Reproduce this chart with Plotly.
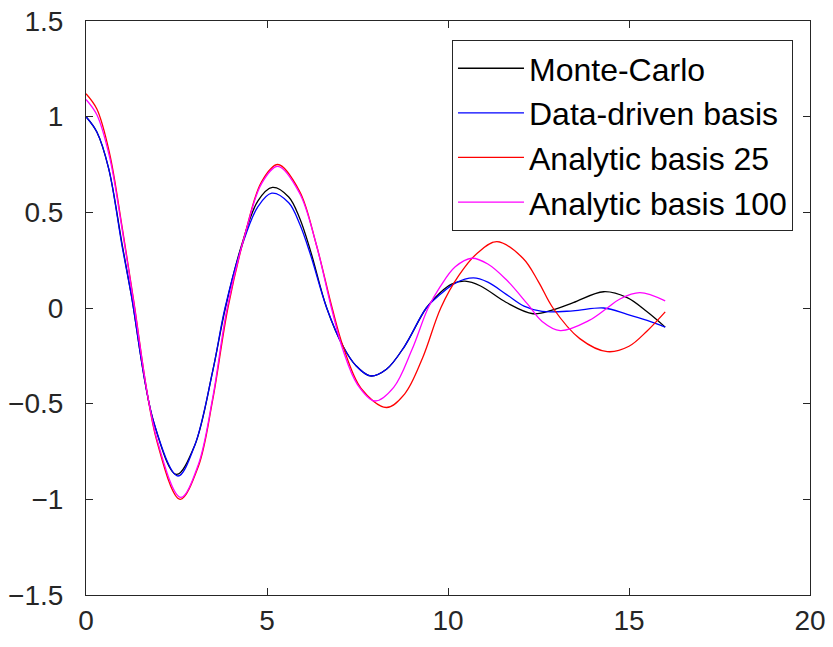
import plotly.graph_objects as go

# Values
mc_x = [0, 0.3, 0.625, 1.0, 1.25, 1.875, 2.5, 3.0, 3.5, 3.85, 4.3, 4.75, 5.15, 5.6, 5.9, 6.2, 6.65, 7.1, 7.45, 7.85, 8.3, 8.8, 9.4, 9.78, 10.1, 10.47, 10.9, 11.6, 12.35, 12.9, 13.46, 14.3, 14.95, 15.5, 16.0]
mc_y = [1.0, 0.92, 0.73, 0.33, 0.07, -0.6, -0.87, -0.72, -0.33, 0.0, 0.33, 0.56, 0.63, 0.58, 0.47, 0.3, 0.0, -0.2, -0.3, -0.355, -0.32, -0.2, 0.0, 0.08, 0.125, 0.14, 0.115, 0.03, -0.03, -0.01, 0.028, 0.085, 0.054, -0.02, -0.1]

dd_x = [0, 0.3, 0.625, 1.0, 1.25, 1.875, 2.54, 3.0, 3.5, 3.84, 4.3, 4.75, 5.13, 5.6, 5.9, 6.2, 6.65, 7.1, 7.45, 7.85, 8.3, 8.8, 9.4, 9.78, 10.2, 10.7, 11.1, 11.62, 12.1, 12.6, 13.45, 14.3, 14.95, 15.5, 16.0]
dd_y = [1.0, 0.92, 0.73, 0.32, 0.07, -0.6, -0.878, -0.72, -0.33, 0.0, 0.32, 0.53, 0.6, 0.55, 0.44, 0.28, 0.0, -0.2, -0.3, -0.355, -0.32, -0.2, 0.0, 0.07, 0.13, 0.157, 0.135, 0.07, 0.01, -0.018, -0.015, 0.0, -0.033, -0.065, -0.1]

a25_x = [0, 0.3, 0.65, 1.0, 1.3, 1.95, 2.6, 3.1, 3.5, 3.92, 4.4, 4.85, 5.3, 5.9, 6.35, 6.8, 7.1, 7.6, 8.3, 8.8, 9.3, 9.8, 10.3, 10.8, 11.35, 12.07, 12.5, 12.9, 13.64, 14.4, 15.0, 15.5, 16.0]
a25_y = [1.12, 1.04, 0.81, 0.42, 0.06, -0.69, -1.0, -0.83, -0.48, 0.0, 0.39, 0.66, 0.75, 0.61, 0.34, 0.0, -0.2, -0.42, -0.52, -0.45, -0.26, 0.0, 0.17, 0.285, 0.347, 0.26, 0.137, 0.0, -0.16, -0.228, -0.2, -0.12, -0.02]

a100_x = [0, 0.3, 0.65, 1.0, 1.3, 1.95, 2.62, 3.1, 3.5, 3.9, 4.4, 4.85, 5.3, 5.9, 6.35, 6.78, 7.1, 7.5, 7.98, 8.5, 9.0, 9.45, 9.78, 10.2, 10.66, 11.1, 11.6, 12.2, 12.6, 13.1, 13.9, 14.4, 14.75, 15.3, 16.0]
a100_y = [1.09, 1.01, 0.79, 0.41, 0.05, -0.68, -0.99, -0.82, -0.47, 0.0, 0.39, 0.65, 0.74, 0.6, 0.34, 0.0, -0.22, -0.4, -0.486, -0.415, -0.22, 0.0, 0.11, 0.215, 0.26, 0.23, 0.15, 0.02, -0.07, -0.118, -0.065, 0.0, 0.047, 0.08, 0.037]

names = ["Monte-Carlo", "Data-driven basis", "Analytic basis 25", "Analytic basis 100"]
colors = ["#000000", "#0000ff", "#ff0000", "#ff00ff"]

x_ticks = [0, 5, 10, 15, 20]
y_ticks = [-1.5, -1, -0.5, 0, 0.5, 1, 1.5]
y_tick_text = ["\u22121.5", "\u22121", "\u22120.5", "0", "0.5", "1", "1.5"]

fig = go.Figure()
for xs, ys, nm, c in zip([mc_x, dd_x, a25_x, a100_x], [mc_y, dd_y, a25_y, a100_y], names, colors):
    fig.add_trace(go.Scatter(x=xs, y=ys, mode="lines", name=nm,
                             line=dict(color=c, width=1.3, shape="spline", smoothing=1.0)))

font = dict(family="Liberation Sans, Arial, sans-serif", size=28, color="#262626")

fig.update_layout(
    width=833, height=647,
    margin=dict(l=86, r=23, t=21, b=52),
    paper_bgcolor="white", plot_bgcolor="white",
    font=font,
    showlegend=True,
    legend=dict(x=0.9765, y=0.967, xanchor="right", yanchor="top",
                bgcolor="white", bordercolor="#262626", borderwidth=1,
                font=dict(family="Liberation Sans, Arial, sans-serif", size=32, color="#000000"),
                itemwidth=66, tracegroupgap=0),
)
fig.update_xaxes(range=[0, 20], tickvals=x_ticks, ticks="inside", ticklen=7, automargin=False,
                 ticklabeloverflow="allow",
                 showline=True, linecolor="#262626", linewidth=1, mirror="ticks",
                 showgrid=False, zeroline=False, tickcolor="#262626")
fig.update_yaxes(range=[-1.5, 1.5], tickvals=y_ticks, ticktext=y_tick_text, ticks="inside", ticklen=7,
                 automargin=False, ticklabelstandoff=16, ticklabeloverflow="allow",
                 showline=True, linecolor="#262626", linewidth=1, mirror="ticks",
                 showgrid=False, zeroline=False, tickcolor="#262626")

fig.write_html("out.html", config={"displayModeBar": False},
               post_script="document.body.style.margin='0';document.body.style.overflow='hidden';")
